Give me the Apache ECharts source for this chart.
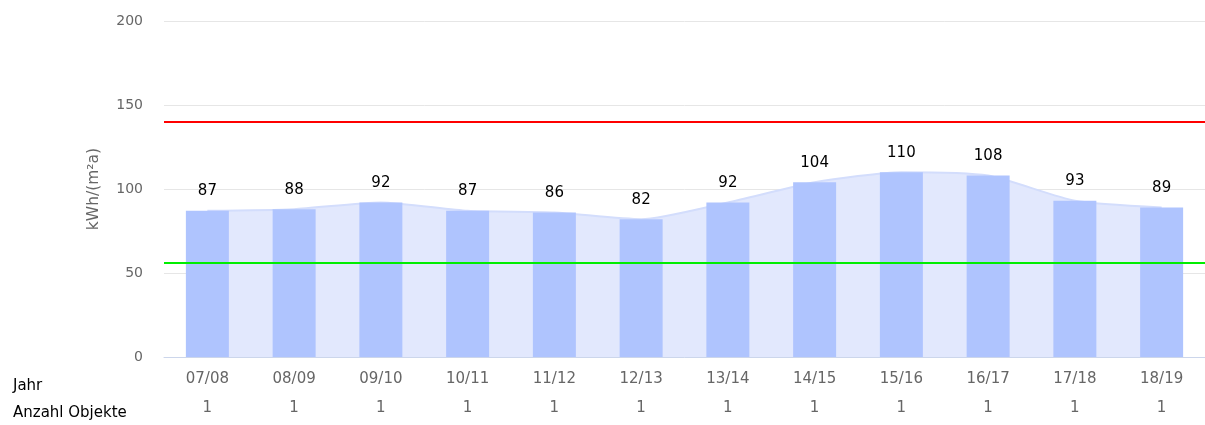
<!DOCTYPE html>
<html>
<head>
<meta charset="utf-8">
<script src="https://cdn.jsdelivr.net/npm/echarts@6/dist/echarts.min.js"></script>
<style>
html,body{margin:0;padding:0;background:#fff;}
#chart{width:1205px;height:425px;}
</style>
</head>
<body>
<div id="chart"></div>
<script>
const categories = ['07/08','08/09','09/10','10/11','11/12','12/13','13/14','14/15','15/16','16/17','17/18','18/19'];
const values = [87, 88, 92, 87, 86, 82, 92, 104, 110, 108, 93, 89];
const counts = [1, 1, 1, 1, 1, 1, 1, 1, 1, 1, 1, 1];
const yTicks = [0, 50, 100, 150, 200];
const upperLimit = 140;
const lowerLimit = 56;
const yAxisTitle = 'kWh/(m²a)';
const rowLabels = ['Jahr', 'Anzahl Objekte'];

const FONT = 'DejaVu Sans';
const chart = echarts.init(document.getElementById('chart'), null, {renderer: 'canvas'});
chart.setOption({
  animation: false,
  backgroundColor: '#fff',
  textStyle: {fontFamily: FONT},
  grid: {left: 164, top: 21, bottom: 68, right: -3, containLabel: false},
  xAxis: {
    type: 'category',
    data: categories,
    boundaryGap: true,
    axisLine: {lineStyle: {color: '#ccd6eb', width: 1}},
    axisTick: {alignWithLabel: true, length: 10, lineStyle: {color: '#ccd6eb'}},
    axisLabel: {
      margin: 8,
      formatter: function (v, i) { return '{a|' + v + '}\n{b|' + counts[i] + '}'; },
      rich: {
        a: {fontFamily: FONT, fontSize: 15, color: '#666', lineHeight: 29},
        b: {fontFamily: FONT, fontSize: 15, color: '#666', lineHeight: 29}
      }
    }
  },
  yAxis: {
    type: 'value',
    min: yTicks[0],
    max: yTicks[yTicks.length - 1],
    interval: yTicks[1] - yTicks[0],
    name: yAxisTitle,
    nameLocation: 'middle',
    nameRotate: 90,
    nameGap: 62,
    nameTextStyle: {fontFamily: FONT, fontSize: 15.5, color: '#666'},
    axisLine: {show: false},
    axisTick: {show: false},
    axisLabel: {fontFamily: FONT, fontSize: 14, color: '#666', margin: 21},
    splitLine: {lineStyle: {color: '#e6e6e6', width: 1}}
  },
  series: [
    {
      type: 'line',
      data: values,
      smooth: 0.2,
      symbol: 'none',
      z: 1,
      lineStyle: {color: '#d3ddfc', width: 2},
      areaStyle: {color: '#e2e8fd', opacity: 1},
      markLine: {
        silent: true,
        symbol: 'none',
        label: {show: false},
        data: [
          {yAxis: upperLimit, lineStyle: {color: '#ff0000', width: 2, type: 'solid'}},
          {yAxis: lowerLimit, lineStyle: {color: '#00ee00', width: 2, type: 'solid'}}
        ],
        z: 5
      }
    },
    {
      type: 'bar',
      data: values,
      barWidth: 43,
      z: 3,
      itemStyle: {color: '#afc4fe'},
      label: {
        show: true,
        position: 'top',
        distance: 12,
        fontFamily: FONT,
        fontSize: 15,
        color: '#000'
      }
    }
  ],
  graphic: [
    {type: 'text', left: 13, top: 379, style: {text: rowLabels[0], fontFamily: FONT, fontSize: 15, fill: '#000'}},
    {type: 'text', left: 13, top: 406, style: {text: rowLabels[1], fontFamily: FONT, fontSize: 15, fill: '#000'}}
  ]
});
</script>
</body>
</html>
